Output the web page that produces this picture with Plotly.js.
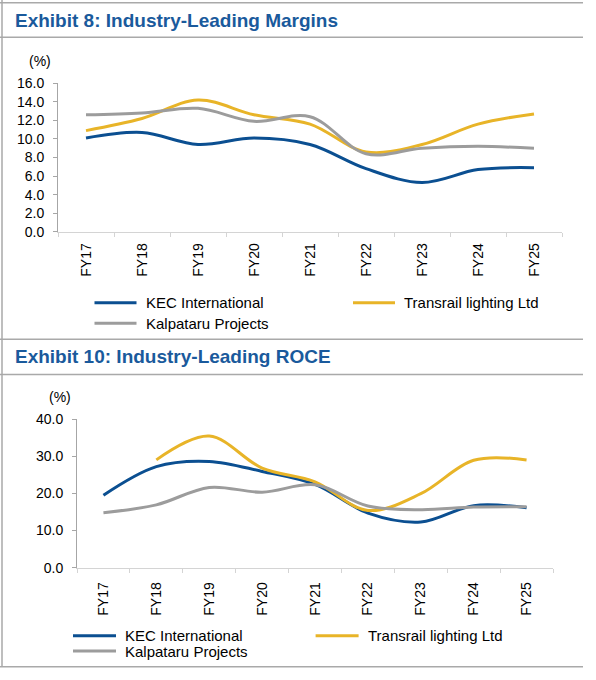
<!DOCTYPE html>
<html>
<head>
<meta charset="utf-8">
<script src="https://cdn.plot.ly/plotly-3.0.1.min.js"></script>
<style>
  html, body { margin: 0; padding: 0; background: #fff; }
  #chart { width: 596px; height: 680px; }
</style>
</head>
<body>
<div id="chart"></div>
<script>
// ---------- data ----------
var categories = ['FY17', 'FY18', 'FY19', 'FY20', 'FY21', 'FY22', 'FY23', 'FY24', 'FY25'];
var seriesNames = ['KEC International', 'Transrail lighting Ltd', 'Kalpataru Projects'];
var marginKEC       = [10.1, 10.7, 9.4, 10.1, 9.4, 6.8, 5.3, 6.7, 6.9];
var marginTransrail = [10.9, 12.2, 14.2, 12.6, 11.6, 8.6, 9.4, 11.6, 12.7];
var marginKalpataru = [12.6, 12.8, 13.3, 11.9, 12.4, 8.4, 9.0, 9.2, 9.0];
var roceKEC         = [19.5, 27.2, 28.6, 25.9, 22.4, 14.7, 12.3, 16.7, 16.1];
var roceTransrail   = [null, 29.0, 35.4, 26.8, 23.1, 15.4, 19.9, 28.9, 29.0];
var roceKalpataru   = [14.8, 16.9, 21.6, 20.3, 22.3, 16.6, 15.6, 16.3, 16.4];
var titles = ['Exhibit 8: Industry-Leading Margins', 'Exhibit 10: Industry-Leading ROCE'];
var unitLabel = '(%)';

// ---------- style ----------
var W = 596, H = 680;
var colors = ['#0b4f91', '#e8b428', '#9c9c9c'];
var titleColor = '#1a5a9c';
var frameColor = '#a9a9a9';
var font = 'Liberation Sans, Arial, sans-serif';
function px(x) { return x / W; }
function py(y) { return 1 - y / H; }

var data = [];
function addSeries(vals, idx, xa, ya) {
  data.push({
    x: categories, y: vals, type: 'scatter', mode: 'lines',
    name: seriesNames[idx], showlegend: false,
    line: { color: colors[idx], width: 3, shape: 'spline', smoothing: 1 },
    connectgaps: false, xaxis: xa, yaxis: ya, hoverinfo: 'skip'
  });
}
addSeries(marginKEC, 0, 'x', 'y');
addSeries(marginTransrail, 1, 'x', 'y');
addSeries(marginKalpataru, 2, 'x', 'y');
addSeries(roceKEC, 0, 'x2', 'y2');
addSeries(roceTransrail, 1, 'x2', 'y2');
addSeries(roceKalpataru, 2, 'x2', 'y2');

function xAxis(domain, anchor, standoff) {
  return {
    domain: domain, anchor: anchor, type: 'category',
    range: [-0.5, categories.length - 0.5],
    showline: true, linecolor: '#d4d4d4', linewidth: 1,
    ticks: 'outside', tickson: 'boundaries', ticklen: 4, tickcolor: '#d4d4d4',
    tickangle: -90, ticklabelstandoff: standoff,
    tickfont: { family: font, size: 14, color: '#000' },
    showgrid: false, zeroline: false, fixedrange: true
  };
}
function yAxis(domain, anchor, max, step) {
  return {
    domain: domain, anchor: anchor, range: [0, max], dtick: step, tick0: 0,
    tickformat: '.1f',
    showline: true, linecolor: '#a6a6a6', linewidth: 1,
    ticks: 'outside', ticklen: 4, tickcolor: '#a6a6a6',
    ticklabelstandoff: 6,
    tickfont: { family: font, size: 14, color: '#000' },
    showgrid: false, zeroline: false, fixedrange: true
  };
}

var shapes = [];
var annotations = [];
// frame lines
[2.7, 37.3, 339.3, 374.5, 666.7].forEach(function (y) {
  shapes.push({ type: 'line', xref: 'paper', yref: 'paper', x0: 0, x1: px(583), y0: py(y), y1: py(y),
    line: { color: frameColor, width: 1.5 } });
});
shapes.push({ type: 'line', xref: 'paper', yref: 'paper', x0: px(2), x1: px(2), y0: py(0), y1: py(666.7),
  line: { color: frameColor, width: 1.5 } });

// titles
[[20.3, 0], [356.7, 1]].forEach(function (t) {
  annotations.push({ xref: 'paper', yref: 'paper', x: px(13), y: py(t[0]), xanchor: 'left', yanchor: 'middle',
    showarrow: false, text: '<b>' + titles[t[1]] + '</b>',
    font: { family: font, size: 19, color: titleColor } });
});
// unit labels
[[40, 61], [60, 397]].forEach(function (u) {
  annotations.push({ xref: 'paper', yref: 'paper', x: px(u[0]), y: py(u[1]), xanchor: 'center', yanchor: 'middle',
    showarrow: false, text: unitLabel, font: { family: font, size: 14, color: '#000' } });
});

// legends (custom, drawn as line samples + text)
function legendItem(idx, xs, y, len) {
  shapes.push({ type: 'line', xref: 'paper', yref: 'paper', x0: px(xs), x1: px(xs + len), y0: py(y), y1: py(y),
    line: { color: colors[idx], width: 3 } });
  annotations.push({ xref: 'paper', yref: 'paper', x: px(xs + len + 7), y: py(y), xanchor: 'left', yanchor: 'middle',
    showarrow: false, text: seriesNames[idx], font: { family: font, size: 15, color: '#000' } });
}
legendItem(0, 94.5, 302.7, 42);
legendItem(1, 353, 302.7, 42);
legendItem(2, 94.5, 323.3, 42);
legendItem(0, 73, 635.7, 43);
legendItem(1, 315.6, 635.7, 43);
legendItem(2, 73, 651, 43);

var layout = {
  width: W, height: H,
  margin: { l: 0, r: 0, t: 0, b: 0 },
  paper_bgcolor: '#fff', plot_bgcolor: 'rgba(0,0,0,0)',
  showlegend: false,
  font: { family: font, color: '#000' },
  xaxis: xAxis([px(58), px(562)], 'y', 5),
  yaxis: yAxis([py(231.7), py(83.3)], 'x', 16, 2),
  xaxis2: xAxis([px(77), px(553)], 'y2', 8),
  yaxis2: yAxis([py(567.7), py(419)], 'x2', 40, 10),
  shapes: shapes,
  annotations: annotations
};

Plotly.newPlot('chart', data, layout, { displayModeBar: false, staticPlot: true });
</script>
</body>
</html>
